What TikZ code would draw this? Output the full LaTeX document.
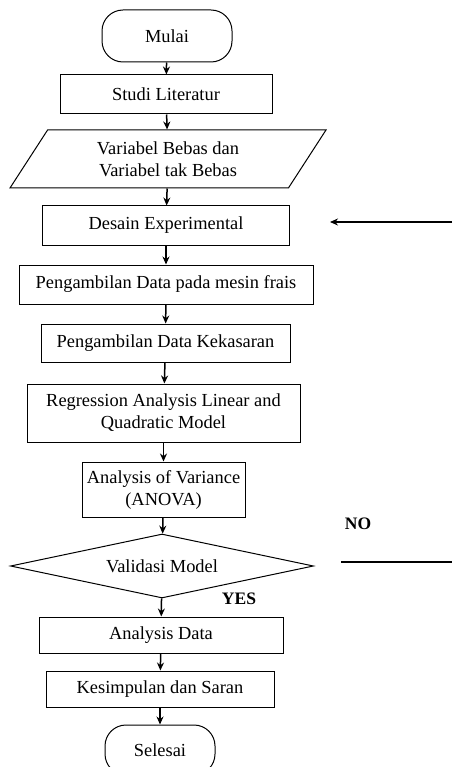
\documentclass[tikz,border=0pt]{standalone}
\usepackage{fontspec}
\setmainfont{Liberation Serif}
\usetikzlibrary{shapes.geometric,arrows.meta}
\tikzstyle{term} = [rectangle, rounded corners=21pt, draw, line width=1pt, minimum width=130pt, minimum height=52pt]
\tikzstyle{proc} = [rectangle, draw, line width=1pt, align=center, inner sep=0pt]
\tikzstyle{io} = [trapezium, trapezium left angle=43, trapezium right angle=137, trapezium stretches body, draw, line width=1pt, align=center, inner sep=0pt, minimum width=316pt, minimum height=58pt]
\tikzstyle{decide} = [diamond, draw, line width=1pt, inner sep=0pt, aspect=4.73, minimum width=303pt, minimum height=64pt]
\tikzstyle{lbl} = [font=\fontsize{17.5}{21}\selectfont\bfseries]

\begin{document}
\begin{tikzpicture}[->,>={Stealth[length=8pt,width=7pt]},line width=1.5pt,
  every node/.style={font=\fontsize{18.4}{22}\selectfont}]
  \useasboundingbox (0,0) rectangle (452pt,-767pt);
  \node[term] (mulai) at (167pt,-36pt) {Mulai};
  \node[proc, minimum width=212pt, minimum height=39pt] (studi) [below of=mulai, node distance=58.5pt, xshift=-1pt] {Studi Literatur};
  \node[io] (var) [below of=studi, node distance=64.5pt, xshift=2pt] {Variabel Bebas dan\\Variabel tak Bebas};
  \node[proc, minimum width=247pt, minimum height=39pt] (desain) [below of=var, node distance=66.5pt, xshift=-2pt] {Desain Experimental};
  \node[proc, minimum width=294pt, minimum height=39pt] (mesin) [below of=desain, node distance=59pt] {Pengambilan Data pada mesin frais};
  \node[proc, minimum width=249pt, minimum height=38pt] (kasar) [below of=mesin, node distance=58.5pt, xshift=-0.5pt] {Pengambilan Data Kekasaran};
  \node[proc, minimum width=273pt, minimum height=58pt] (regresi) [below of=kasar, node distance=70pt, xshift=-2pt] {Regression Analysis Linear and\\Quadratic Model};
  \node[proc, minimum width=163pt, minimum height=55pt] (anova) [below of=regresi, node distance=76.5pt] {Analysis of Variance\\(ANOVA)};
  \node[decide] (valid) [below of=anova, node distance=76.5pt, xshift=-1.5pt] {Validasi Model};
  \node[proc, minimum width=244pt, minimum height=36pt] (analisis) [below of=valid, node distance=69pt, xshift=-1pt] {Analysis Data};
  \node[proc, minimum width=228pt, minimum height=36pt] (simpul) [below of=analisis, node distance=54pt, xshift=-1pt] {Kesimpulan dan Saran};
  \node[term, minimum width=110pt, minimum height=50pt] (selesai) [below of=simpul, node distance=61pt] {Selesai};

  \node[lbl] (no) at (358pt,-524pt) {NO};
  \node[lbl] (yes) at (239pt,-599pt) {YES};
  \coordinate (balik_a) at (452pt,-222pt);
  \coordinate (balik_b) at (330pt,-222pt);
  \coordinate (tidak_a) at (341pt,-562pt);
  \coordinate (tidak_b) at (452pt,-562pt);

  \path (mulai) edge node {} (studi);
  \path (studi) edge node {} (var);
  \path (var) edge node {} (desain);
  \path (desain) edge node {} (mesin);
  \path (mesin) edge node {} (kasar);
  \path (kasar) edge node {} (regresi);
  \path (regresi) edge node {} (anova);
  \path (anova) edge node {} (valid);
  \path (valid) edge node {} (analisis);
  \path (analisis) edge node {} (simpul);
  \path (simpul) edge node {} (selesai);
  \path (balik_a) edge node {} (balik_b);
  \draw[-] (tidak_a) -- (tidak_b);
\end{tikzpicture}
\end{document}
